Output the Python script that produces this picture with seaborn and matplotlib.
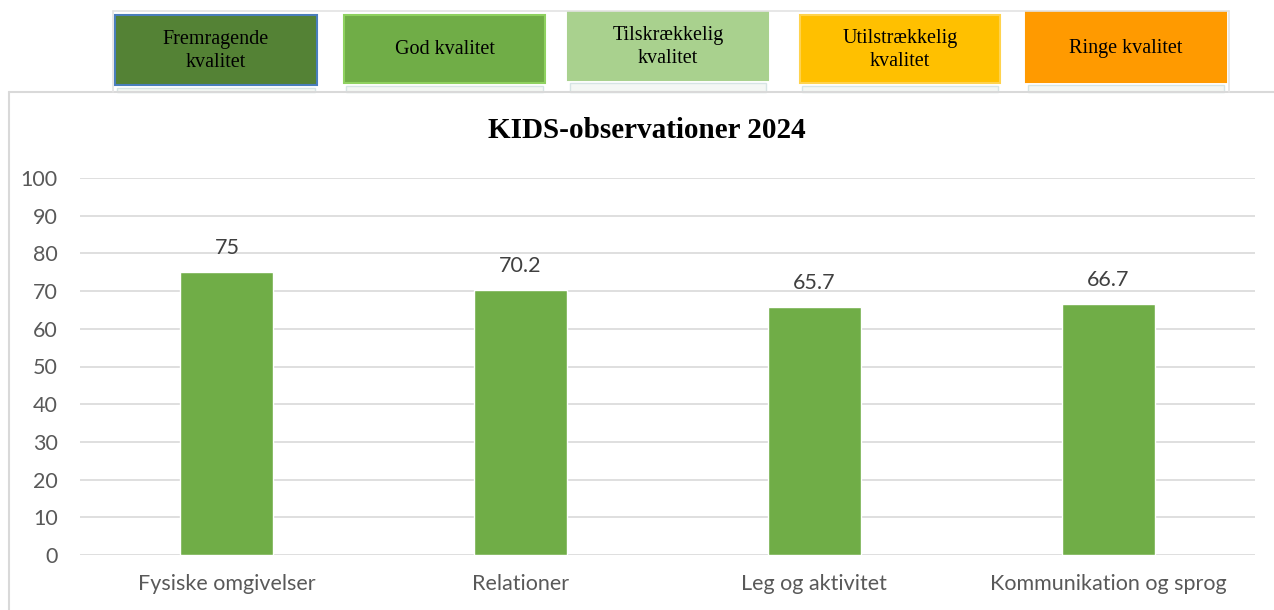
import pandas as pd
import seaborn as sns
import matplotlib.pyplot as plt
from matplotlib.patches import Rectangle
from matplotlib.lines import Line2D

categories = ['Fysiske omgivelser', 'Relationer', 'Leg og aktivitet', 'Kommunikation og sprog']
scores = [75, 70.2, 65.7, 66.7]
score_labels = ['75', '70.2', '65.7', '66.7']

legend_labels = ['Fremragende\nkvalitet', 'God kvalitet', 'Tilskrækkelig\nkvalitet',
                 'Utilstrækkelig\nkvalitet', 'Ringe kvalitet']
legend_colors = ['#548235', '#70ad47', '#a9d18e', '#ffc000', '#ff9a00']
legend_edges = ['#4a7ebb', '#8fd160', '#a9d18e', '#ffd34d', '#ff9a00']

W, H = 1274, 610
sns.set_theme(style='white')
plt.rcParams['font.family'] = ['Lato', 'DejaVu Sans']

fig = plt.figure(figsize=(W / 100, H / 100), dpi=100)

def fx(px):
    return px / W

def fy(py):
    return 1 - py / H

# chart frame (left and top edge visible)
fig.add_artist(Line2D([fx(8.5), fx(8.5)], [fy(92), fy(610)], color='#d9d9d9', lw=1.5))
fig.add_artist(Line2D([fx(8.5), fx(1274)], [fy(92), fy(92)], color='#d9d9d9', lw=1.5))
# legend strip outline
fig.add_artist(Line2D([fx(113), fx(1229)], [fy(11), fy(11)], color='#e3e3e3', lw=1.2))
fig.add_artist(Line2D([fx(113), fx(113)], [fy(11), fy(92)], color='#e3e3e3', lw=1.2))
fig.add_artist(Line2D([fx(1229), fx(1229)], [fy(11), fy(92)], color='#e3e3e3', lw=1.2))

# legend boxes
boxes = [(115, 15, 202, 70), (344, 15, 201, 68), (568, 12, 200, 68), (800, 15, 200, 68), (1026, 12, 200, 70)]
for (x0, y0, w, h), lab, col, ec in zip(boxes, legend_labels, legend_colors, legend_edges):
    fig.add_artist(Rectangle((fx(x0), fy(y0 + h)), fx(w), h / H, facecolor=col,
                             edgecolor=ec, lw=1.5, transform=fig.transFigure))
    fig.add_artist(Rectangle((fx(x0 + 2), fy(92)), fx(w - 4), (92 - (y0 + h + 3)) / H,
                             facecolor='#f4f7f4', edgecolor='#d6e4e4', lw=1, transform=fig.transFigure))
    fig.text(fx(x0 + w / 2), fy(y0 + h / 2 + 1), lab, ha='center', va='center',
             fontsize=14.5, family='Liberation Serif', color='black', linespacing=1.3)

ax = fig.add_axes([fx(80), fy(555), fx(1175), 377 / H])
df = pd.DataFrame({'kategori': categories, 'score': scores})
sns.barplot(data=df, x='kategori', y='score', color='#70ad47', saturation=1, width=0.317, ax=ax, zorder=3)

for i, (v, lab) in enumerate(zip(scores, score_labels)):
    ax.annotate(lab, (i, v), xytext=(0, 10), textcoords='offset points', ha='center', va='bottom',
                fontsize=15.5, color='#404040')

ax.set_xlim(-0.5, 3.5)
ax.set_ylim(0, 100)
ax.set_yticks(range(0, 101, 10))
ax.yaxis.grid(True, color='#d9d9d9', lw=1.2, zorder=0)
ax.set_axisbelow(True)
for s in ax.spines.values():
    s.set_visible(False)
ax.set_xlabel('')
ax.set_ylabel('')
ax.tick_params(axis='both', length=0, labelsize=15.5, labelcolor='#595959')
ax.tick_params(axis='y', pad=16)
ax.tick_params(axis='x', pad=14)

fig.text(fx(647), fy(130), 'KIDS-observationer 2024', ha='center', va='center',
         fontsize=21, fontweight='bold', family='Liberation Serif', color='black')

fig.savefig('out.png', dpi=100)
